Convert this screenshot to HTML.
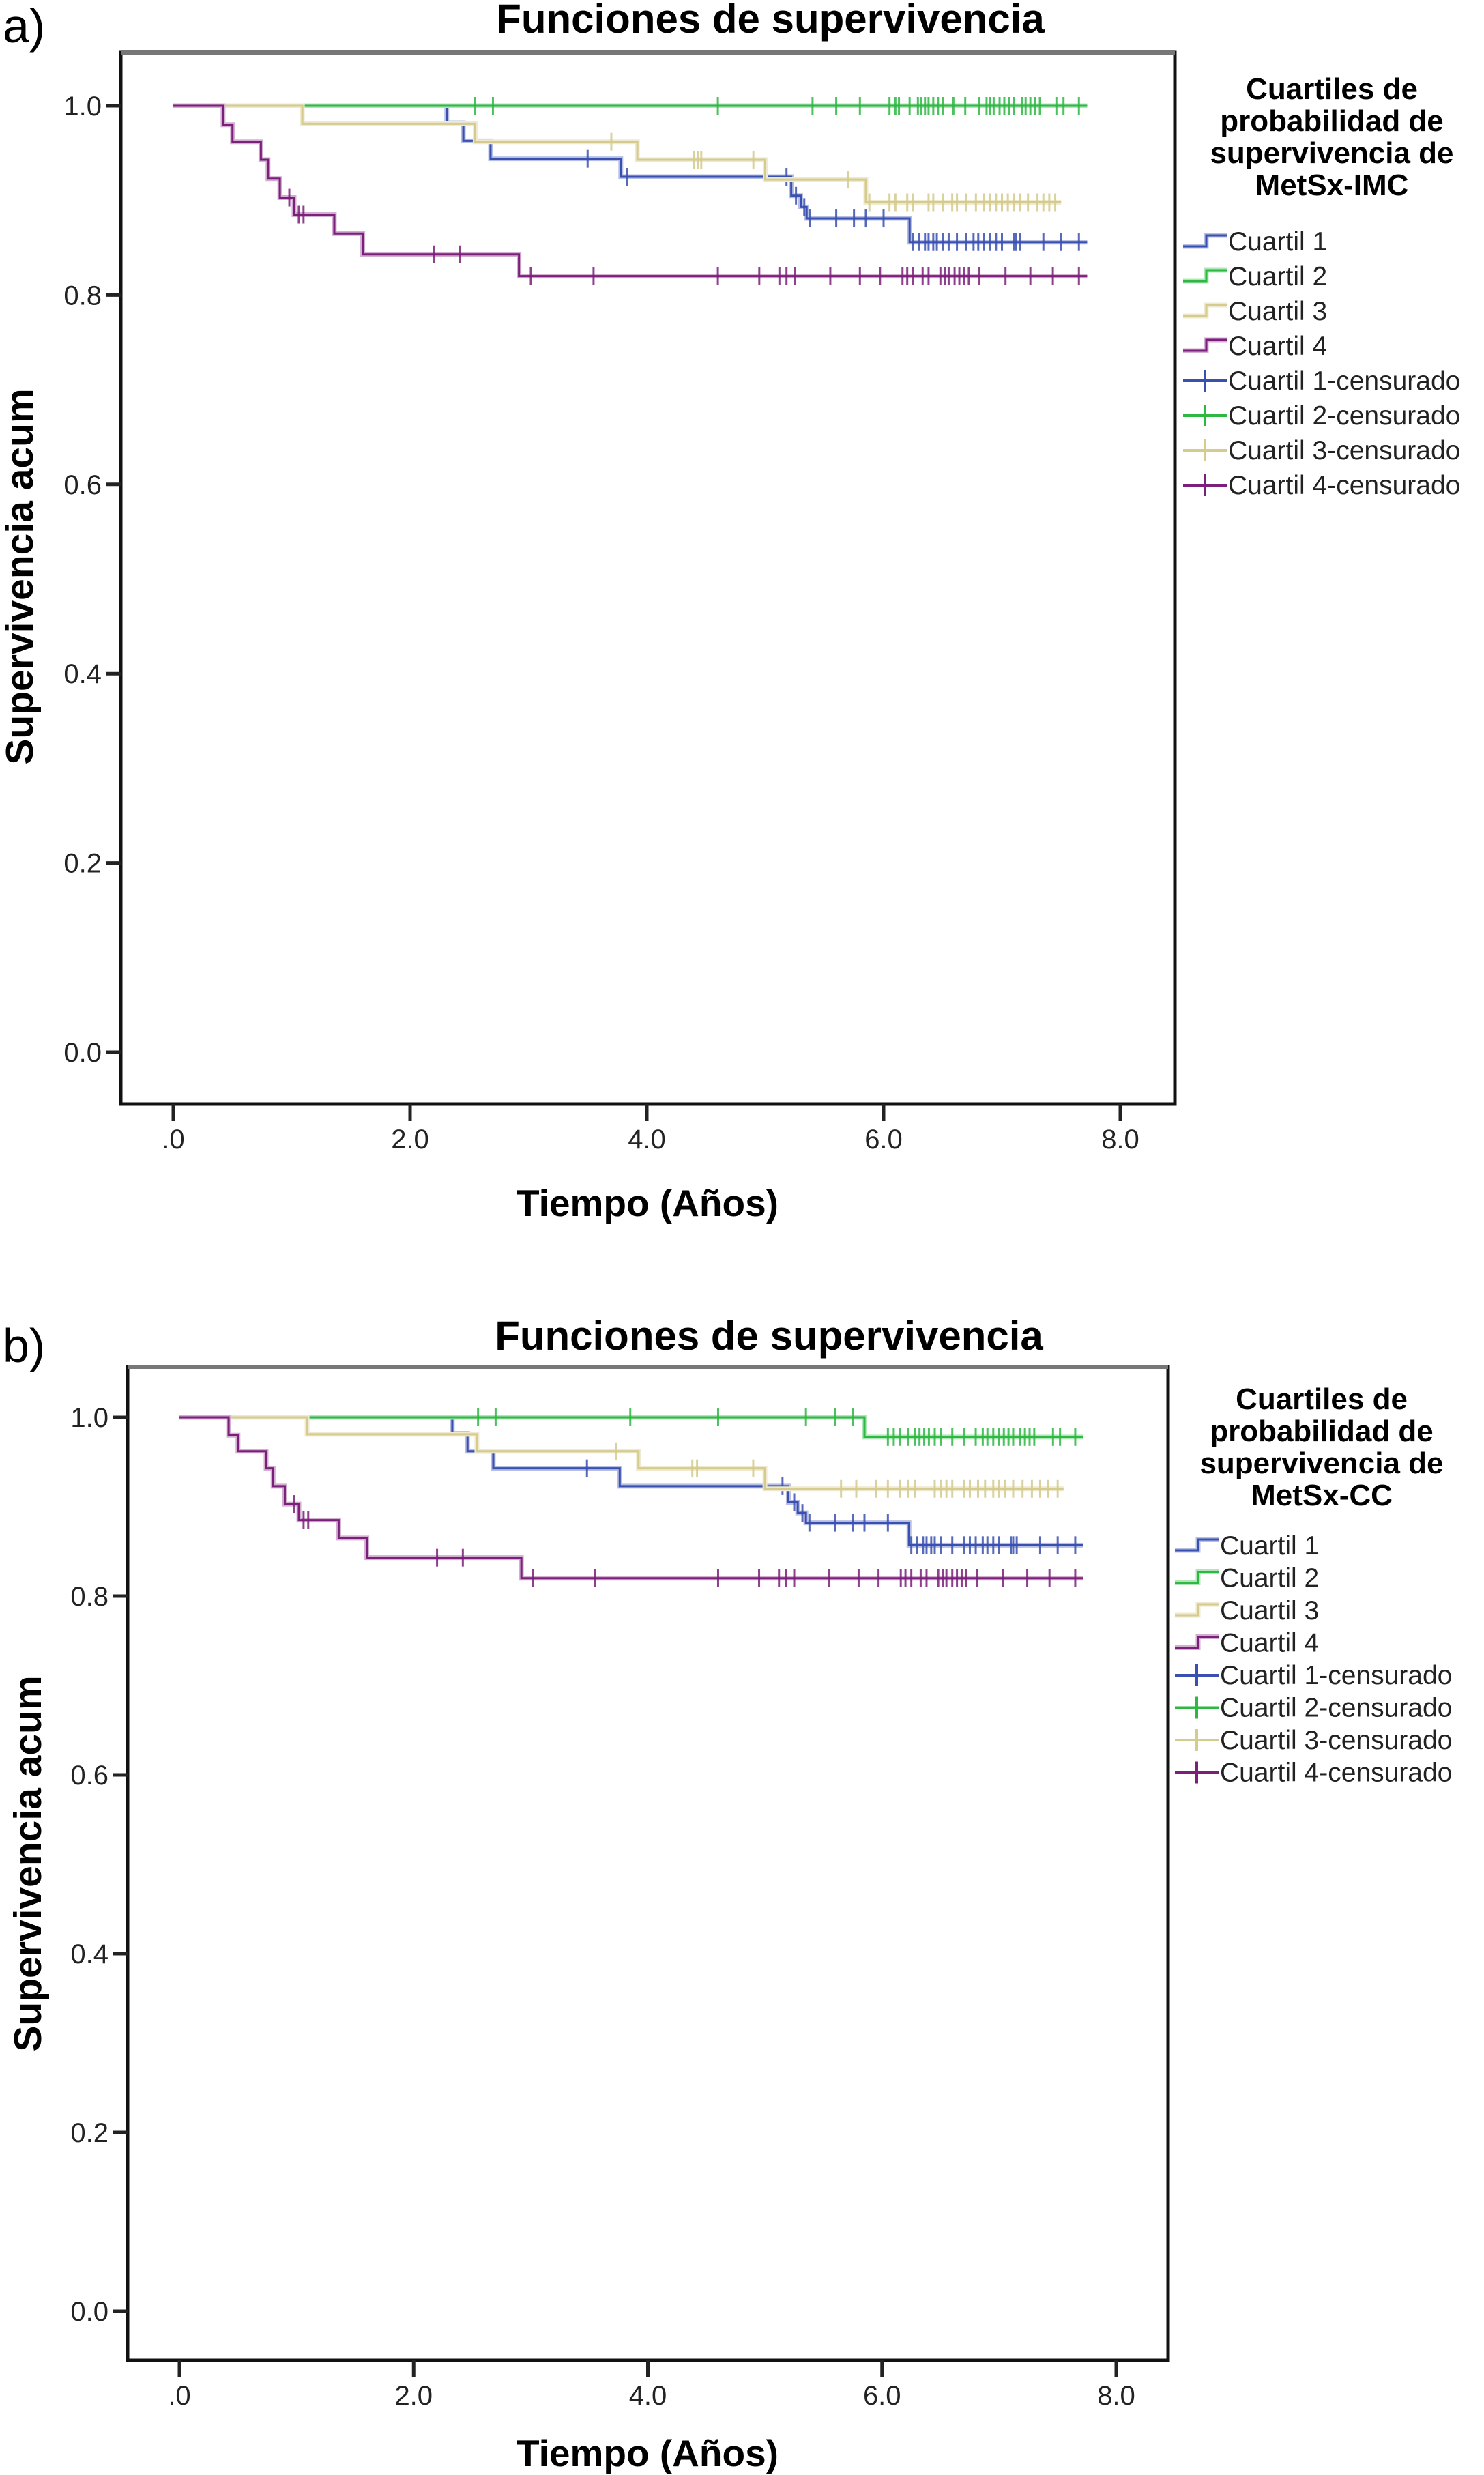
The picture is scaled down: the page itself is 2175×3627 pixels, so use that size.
<!DOCTYPE html>
<html><head><meta charset="utf-8">
<style>
html,body{margin:0;padding:0;background:#fff;}
svg{display:block;}
text{font-family:"Liberation Sans",Arial,sans-serif;}
</style></head>
<body>
<svg id="svg" width="2175" height="3627" viewBox="0 0 2175 3627" xmlns="http://www.w3.org/2000/svg">
<rect width="2175" height="3627" fill="#fff"/>
<text x="4" y="62" font-size="70" font-family="Liberation Sans">a)</text>
<text x="4" y="1996" font-size="70" font-family="Liberation Sans">b)</text>
</svg>
<script>
// ---- Panel A data (years / cumulative survival) ----
const aQ1EventT=[2.31,2.45,2.68,3.78,5.22,5.3,5.35,6.22];
const aQ1EventS=[0.982,0.963,0.944,0.925,0.905,0.893,0.881,0.856];
const aQ1Cens=[3.5,3.83,5.18,5.26,5.33,5.38,5.6,5.75,5.85,6.0,6.25,6.3,6.35,6.38,6.42,6.45,6.5,6.55,6.62,6.7,6.76,6.8,6.85,6.9,6.95,7.0,7.1,7.12,7.15,7.35,7.5,7.65];
const aQ2EventT=[];
const aQ2EventS=[];
const aQ2Cens=[2.55,2.7,4.6,5.4,5.6,5.8,6.05,6.1,6.13,6.22,6.29,6.32,6.35,6.38,6.42,6.46,6.5,6.59,6.69,6.81,6.87,6.9,6.93,6.98,7.02,7.06,7.1,7.17,7.2,7.24,7.28,7.32,7.46,7.52,7.65];
const aQ3EventT=[1.09,2.55,3.92,5.0,5.85];
const aQ3EventS=[0.981,0.962,0.943,0.922,0.898];
const aQ3Cens=[3.7,4.4,4.43,4.46,4.9,5.7,5.88,6.05,6.1,6.2,6.25,6.38,6.42,6.5,6.58,6.62,6.7,6.78,6.85,6.9,6.95,7.0,7.05,7.1,7.15,7.22,7.3,7.35,7.4,7.45];
const aQ4EventT=[0.42,0.5,0.74,0.8,0.9,1.02,1.36,1.6,2.92];
const aQ4EventS=[0.98,0.962,0.943,0.923,0.903,0.885,0.865,0.843,0.82];
const aQ4Cens=[0.98,1.06,1.1,2.2,2.42,3.02,3.55,4.6,4.95,5.12,5.18,5.25,5.55,5.8,5.97,6.16,6.2,6.25,6.33,6.38,6.48,6.52,6.55,6.6,6.64,6.68,6.72,6.81,7.03,7.24,7.43,7.65];
// ---- Panel B data ----
const bQ1EventT=[2.33,2.46,2.68,3.76,5.2,5.28,5.35,6.23];
const bQ1EventS=[0.982,0.962,0.943,0.923,0.905,0.893,0.882,0.857];
const bQ1Cens=[3.48,5.15,5.25,5.32,5.38,5.6,5.75,5.85,6.05,6.25,6.3,6.35,6.38,6.42,6.45,6.5,6.6,6.7,6.75,6.8,6.86,6.9,6.95,7.0,7.1,7.12,7.15,7.35,7.5,7.65];
const bQ2EventT=[5.85];
const bQ2EventS=[0.978];
const bQ2Cens=[2.55,2.7,3.85,4.6,5.35,5.6,5.75,6.05,6.1,6.15,6.22,6.28,6.32,6.36,6.4,6.45,6.5,6.6,6.7,6.8,6.86,6.9,6.95,7.0,7.04,7.08,7.12,7.18,7.22,7.26,7.3,7.46,7.52,7.65];
const bQ3EventT=[1.09,2.54,3.92,5.0];
const bQ3EventS=[0.981,0.962,0.943,0.92];
const bQ3Cens=[3.73,4.38,4.42,4.9,5.65,5.78,5.95,6.05,6.15,6.22,6.28,6.45,6.5,6.55,6.6,6.7,6.75,6.82,6.88,6.95,7.0,7.05,7.12,7.2,7.28,7.35,7.42,7.5];
const bQ4EventT=[0.42,0.5,0.74,0.8,0.9,1.02,1.36,1.6,2.92];
const bQ4EventS=[0.98,0.962,0.943,0.923,0.903,0.885,0.865,0.843,0.82];
const bQ4Cens=[0.98,1.06,1.1,2.2,2.42,3.02,3.55,4.6,4.95,5.12,5.18,5.25,5.55,5.8,5.97,6.16,6.2,6.25,6.33,6.38,6.48,6.52,6.55,6.6,6.64,6.68,6.72,6.81,7.03,7.24,7.43,7.65];
const xTicks=[0,2,4,6,8];
const xTickLabels=[".0","2.0","4.0","6.0","8.0"];
const yTicks=[0,0.2,0.4,0.6,0.8,1.0];
const yTickLabels=["0.0","0.2","0.4","0.6","0.8","1.0"];
const legendLabels=["Cuartil 1","Cuartil 2","Cuartil 3","Cuartil 4","Cuartil 1-censurado","Cuartil 2-censurado","Cuartil 3-censurado","Cuartil 4-censurado"];

const NS="http://www.w3.org/2000/svg";
const svg=document.getElementById('svg');
const COLORS=["#3a50b0","#2db842","#d4cb8c","#7b1f7a"];
const HALO=["#b6bee2","#b2e6ba","#eee9cf","#d2aed1"];
function mk(tag,attrs,parent){const e=document.createElementNS(NS,tag);for(const k in attrs)e.setAttribute(k,attrs[k]);(parent||svg).appendChild(e);return e;}

function drawPanel(P){
  const g=mk('g',{});
  
  
  const xs=t=>P.x0+t*(P.x8-P.x0)/8;
  const ys=s=>P.y0+s*(P.y1-P.y0);
  const t=mk('text',{x:P.titleX,y:P.titleY,'font-size':60,'font-weight':'bold','text-anchor':'middle'},g);
  t.textContent="Funciones de supervivencia";
  
  
  const fr=mk('rect',{x:P.L,y:P.T,width:P.R-P.L,height:P.B-P.T,fill:'none',stroke:'#111','stroke-width':5},g);
  
  
  mk('line',{x1:P.L,y1:P.T,x2:P.R,y2:P.T,stroke:'#777','stroke-width':6},g);
  yTicks.forEach((v,i)=>{
    const y=ys(v);
    const tk=mk('line',{x1:P.L-22,y1:y,x2:P.L,y2:y,stroke:'#222','stroke-width':5},g);
    
    
    const lb=mk('text',{x:P.L-28,y:y+14,'font-size':40,'text-anchor':'end',fill:'#222'},g);
    lb.textContent=yTickLabels[i];
    
    
  });
  xTicks.forEach((v,i)=>{
    const x=xs(v);
    const tk=mk('line',{x1:x,y1:P.B,x2:x,y2:P.B+25,stroke:'#222','stroke-width':5},g);
    
    
    const lb=mk('text',{x:x,y:P.B+65,'font-size':40,'text-anchor':'middle',fill:'#222'},g);
    lb.textContent=xTickLabels[i];
    
    
  });
  const xt=mk('text',{x:P.xTitleX,y:P.xTitleY,'font-size':55,'font-weight':'bold','text-anchor':'middle'},g);
  xt.textContent="Tiempo (Años)";
  
  
  const yt=mk('text',{x:0,y:0,'font-size':57,'font-weight':'bold','text-anchor':'middle',transform:`translate(${P.yTitleX},${P.yTitleY}) rotate(-90)`},g);
  yt.textContent="Supervivencia acum";
  
  
  P.series.forEach((s,qi)=>{
    let d=`M${xs(0)},${ys(1)}`;
    s.evT.forEach((tt,j)=>{d+=` H${xs(tt)} V${ys(s.evS[j])}`;});
    d+=` H${xs(s.end)}`;
    const halo=mk('path',{d:d,fill:'none',stroke:HALO[qi],'stroke-width':7},g);
    
    
    const p=mk('path',{d:d,fill:'none',stroke:COLORS[qi],'stroke-width':3},g);
    
    
    s.cens.forEach(ct=>{
      let sv=1;s.evT.forEach((tt,j)=>{if(tt<=ct)sv=s.evS[j];});
      const x=xs(ct),y=ys(sv);
      const c=mk('line',{x1:x,y1:y-13,x2:x,y2:y+13,stroke:COLORS[qi],'stroke-width':3,opacity:0.85},g);
      
      
    });
  });
  const lg=mk('g',{},g);
  
  
  P.legendTitle.forEach((ln,i)=>{
    const tx=mk('text',{x:P.legTitleX,y:P.legTitleY+i*47,'font-size':44,'font-weight':'bold','text-anchor':'middle'},lg);
    tx.textContent=ln;
    
    
  });
  legendLabels.forEach((lab,i)=>{
    const y=P.legY+i*P.legStep;const qi=i%4;const x1=P.legSymX,x2=P.legSymX+64;
    if(i<4){
      mk('path',{d:`M${x1},${y+7} H${x1+34} V${y-9} H${x2}`,fill:'none',stroke:HALO[qi],'stroke-width':7},lg);
      mk('path',{d:`M${x1},${y+7} H${x1+34} V${y-9} H${x2}`,fill:'none',stroke:COLORS[qi],'stroke-width':3},lg);
    }else{
      mk('line',{x1:x1,y1:y,x2:x2,y2:y,stroke:COLORS[qi],'stroke-width':4},lg);
      mk('line',{x1:x1+32,y1:y-16,x2:x1+32,y2:y+16,stroke:COLORS[qi],'stroke-width':4},lg);
    }
    const tx=mk('text',{x:x2+2,y:y+13,'font-size':39,fill:'#222'},lg);
    tx.textContent=lab;
    
    
  });
}

drawPanel({id:'panel-a',L:177,T:77,R:1722,B:1618,x0:254,x8:1642,y0:1542,y1:155,
  titleX:1129,titleY:48,xTitleX:949,xTitleY:1782,yTitleX:48,yTitleY:845,
  legendTitle:["Cuartiles de","probabilidad de","supervivencia de","MetSx-IMC"],legTitleX:1952,legTitleY:145,
  legY:354,legStep:51,legSymX:1734,
  series:[
   {evT:aQ1EventT,evS:aQ1EventS,cens:aQ1Cens,end:7.72},
   {evT:aQ2EventT,evS:aQ2EventS,cens:aQ2Cens,end:7.72},
   {evT:aQ3EventT,evS:aQ3EventS,cens:aQ3Cens,end:7.5},
   {evT:aQ4EventT,evS:aQ4EventS,cens:aQ4Cens,end:7.72}]});
drawPanel({id:'panel-b',L:187,T:2003,R:1712,B:3459,x0:263,x8:1636,y0:3387,y1:2077,
  titleX:1127,titleY:1978,xTitleX:949,xTitleY:3614,yTitleX:60,yTitleY:2731,
  legendTitle:["Cuartiles de","probabilidad de","supervivencia de","MetSx-CC"],legTitleX:1937,legTitleY:2065,
  legY:2265,legStep:47.5,legSymX:1722,
  series:[
   {evT:bQ1EventT,evS:bQ1EventS,cens:bQ1Cens,end:7.72},
   {evT:bQ2EventT,evS:bQ2EventS,cens:bQ2Cens,end:7.72},
   {evT:bQ3EventT,evS:bQ3EventS,cens:bQ3Cens,end:7.55},
   {evT:bQ4EventT,evS:bQ4EventS,cens:bQ4Cens,end:7.72}]});
</script>
</body></html>
